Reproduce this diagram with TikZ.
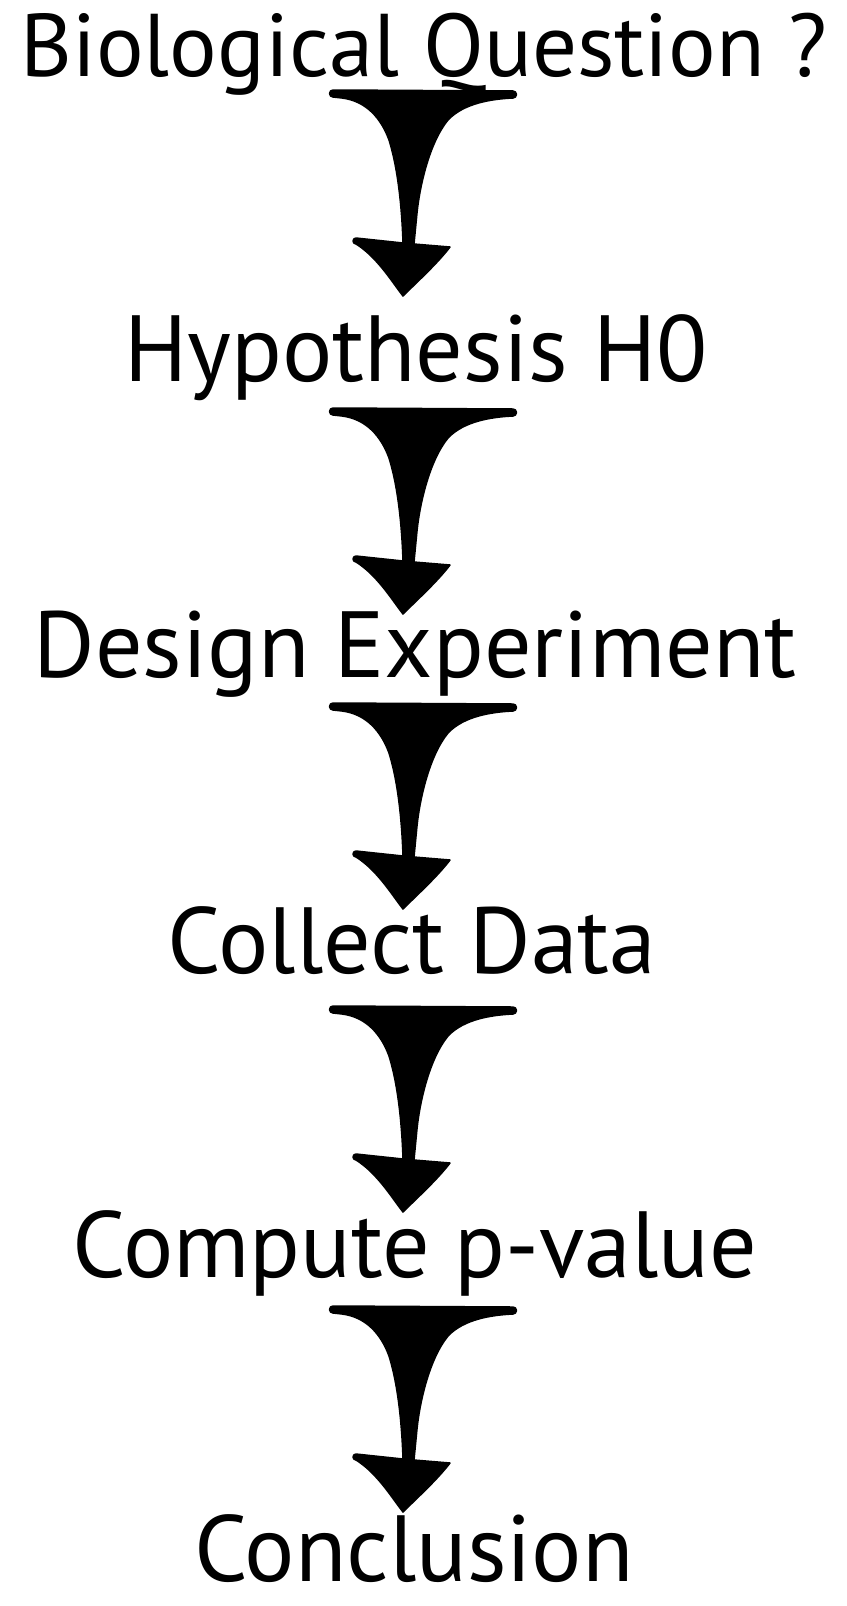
\documentclass[tikz,border=0pt]{standalone}
\usepackage{fontspec}
\setmainfont{PT Sans}

\tikzset{
  stage/.style={anchor=base, inner sep=0pt, font=\fontsize{94}{94}\selectfont},
  funnel/.pic={
    \filldraw[line width=1.5pt, line join=round]
      (-89,-4) -- (91,-3) arc[start angle=90, end angle=-90, radius=3.5pt]
      .. controls (70,5) and (42,9) .. (26,26)
      .. controls (8,48) and (-2,90) .. (-5,119)
      -- (-8,150) -- (28,153)
      .. controls (15,170) and (-5,188) .. (-19,202)
      .. controls (-30,188) and (-45,163) .. (-66,150)
      arc[start angle=270, end angle=90, radius=3pt]
      -- (-19,149)
      .. controls (-20,120) and (-23,78) .. (-33,46)
      .. controls (-41,24) and (-56,7) .. (-80,4)
      -- (-89,3) arc[start angle=270, end angle=90, radius=3.5pt] -- cycle;
  }
}

\begin{document}
\begin{tikzpicture}[x=1pt, y=-1pt]

      \useasboundingbox (0,0) rectangle (846,1606);

      \node[stage, font=\fontsize{89}{89}\selectfont] (bio) at (424,76) {Biological Question ?};
      \node[stage] (hyp) at (416,381) {Hypothesis H0};
      \node[stage] (design) at (415,677) {Design Experiment};
      \node[stage] (collect) at (412,973) {Collect Data};
      \node[stage] (pval) at (415,1277) {Compute p-value};
      \node[stage] (concl) at (414,1581) {Conclusion};

      \coordinate (mid) at (422,0);

      % arrows hang a little below each step
      \foreach \a/\d in {bio/18, hyp/31, design/30, collect/37, pval/33}
        \path (\a.base -| mid) ++(0,\d) pic {funnel};

    \end{tikzpicture}
\end{document}
